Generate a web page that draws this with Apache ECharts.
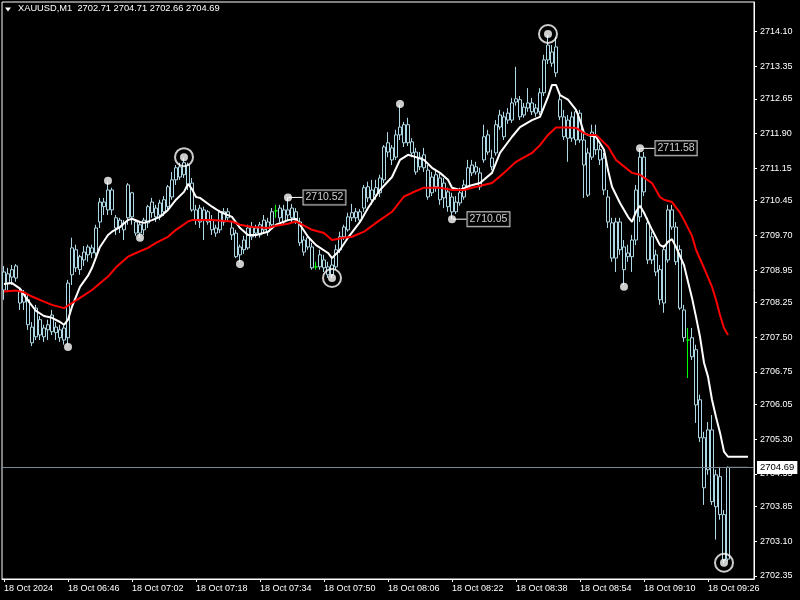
<!DOCTYPE html>
<html><head><meta charset="utf-8">
<script src="https://cdn.jsdelivr.net/npm/echarts@6/dist/echarts.min.js"></script>
<style>html,body{margin:0;padding:0;background:#000;}#c{width:800px;height:600px;}</style>
</head><body><div id="c"></div>
<script>
// ---- data (XAUUSD M1, 18 Oct 2024 06:30 .. 09:31) ----
const opens = [2708.52,2708.87,2708.80,2709.04,2708.48,2708.26,2708.31,2707.72,2707.51,2707.88,2707.51,2707.66,2707.98,2707.60,2707.66,2707.70,2707.49,2708.85,2709.39,2708.96,2709.17,2709.28,2709.43,2709.32,2709.99,2710.42,2710.25,2710.68,2710.08,2709.88,2709.97,2710.08,2710.62,2709.99,2709.75,2709.82,2709.97,2710.42,2710.10,2710.14,2710.21,2710.32,2710.53,2710.90,2711.18,2711.01,2711.22,2710.83,2710.25,2709.99,2710.25,2709.99,2710.03,2709.86,2709.82,2710.21,2710.08,2709.86,2709.75,2709.28,2709.39,2709.43,2709.88,2709.75,2709.93,2709.82,2709.99,2709.93,2710.23,2710.08,2710.25,2710.14,2710.08,2710.21,2709.99,2709.60,2709.45,2709.45,2709.02,2709.02,2709.17,2709.02,2708.85,2709.02,2709.39,2709.67,2709.82,2710.08,2710.21,2710.03,2710.29,2710.75,2710.47,2710.73,2710.62,2710.90,2711.70,2711.59,2711.39,2711.87,2712.09,2711.70,2711.72,2711.50,2711.18,2711.44,2711.11,2710.62,2711.01,2710.94,2710.51,2710.64,2710.53,2710.21,2710.40,2710.53,2710.73,2711.22,2711.07,2711.05,2711.33,2711.87,2711.37,2711.48,2712.04,2712.26,2712.19,2712.19,2712.58,2712.63,2712.30,2712.45,2712.56,2712.45,2712.37,2712.78,2713.49,2713.66,2713.77,2712.63,2712.26,2711.80,2712.26,2711.76,2712.34,2711.76,2711.48,2711.39,2711.83,2711.55,2711.37,2710.53,2709.97,2709.21,2709.99,2709.45,2709.24,2709.24,2709.60,2710.10,2711.39,2709.97,2709.17,2709.28,2708.96,2708.24,2709.17,2710.25,2709.88,2709.39,2708.09,2707.44,2707.49,2707.23,2706.15,2705.33,2704.64,2705.50,2703.84,2704.49,2703.67,2702.71];
const closes = [2708.91,2708.67,2708.96,2708.78,2708.24,2708.46,2707.77,2707.38,2708.13,2707.55,2707.70,2707.77,2707.62,2707.72,2707.49,2707.44,2708.67,2709.43,2709.00,2709.24,2709.34,2709.45,2709.32,2709.86,2710.42,2710.32,2710.68,2710.25,2709.86,2710.03,2709.82,2710.79,2710.10,2709.75,2709.93,2710.03,2710.32,2710.19,2710.29,2710.40,2710.47,2710.75,2710.90,2711.16,2710.96,2711.27,2710.79,2710.25,2710.03,2710.29,2710.03,2710.21,2709.82,2709.75,2710.21,2709.99,2710.21,2709.71,2709.24,2709.45,2709.60,2709.86,2709.67,2709.86,2709.71,2710.03,2709.78,2710.21,2710.23,2710.29,2709.99,2710.25,2710.29,2710.03,2709.54,2709.34,2709.65,2709.00,2709.02,2709.28,2709.00,2708.85,2709.06,2709.39,2709.67,2709.88,2710.10,2710.19,2710.08,2710.21,2710.73,2710.51,2710.68,2710.57,2710.94,2711.61,2711.50,2711.33,2711.87,2712.04,2711.70,2712.09,2711.48,2711.07,2711.39,2711.16,2710.53,2710.96,2710.75,2710.47,2710.83,2710.32,2710.21,2710.42,2710.62,2710.79,2711.16,2711.05,2711.18,2710.75,2711.83,2711.50,2711.18,2712.09,2712.30,2711.83,2712.34,2712.56,2712.65,2712.26,2712.47,2712.56,2712.37,2712.34,2712.78,2713.49,2713.81,2713.42,2713.21,2712.26,2711.83,2712.19,2711.80,2712.37,2711.76,2711.22,2710.57,2711.93,2711.55,2711.33,2710.68,2709.99,2709.21,2709.99,2709.39,2708.96,2709.32,2709.60,2710.68,2711.39,2710.64,2709.17,2709.67,2708.91,2708.31,2709.39,2710.25,2709.88,2709.13,2708.13,2707.49,2707.44,2707.08,2706.04,2705.33,2704.25,2705.50,2703.95,2704.53,2703.67,2702.69,2704.69];
const lows = [2708.31,2708.48,2708.63,2708.70,2708.09,2708.09,2707.66,2707.31,2707.44,2707.44,2707.40,2707.44,2707.55,2707.44,2707.40,2707.34,2707.33,2708.63,2708.91,2708.85,2709.04,2709.13,2709.21,2709.26,2709.86,2710.14,2710.14,2710.14,2709.71,2709.75,2709.60,2709.93,2709.93,2709.69,2709.65,2709.71,2709.86,2710.08,2709.99,2710.03,2710.12,2710.25,2710.47,2710.79,2710.90,2710.94,2710.68,2710.21,2709.93,2709.86,2709.60,2709.93,2709.71,2709.67,2709.75,2709.91,2709.99,2709.60,2709.21,2709.12,2709.30,2709.39,2709.60,2709.65,2709.65,2709.75,2709.69,2709.86,2710.08,2709.99,2709.93,2710.03,2709.99,2709.95,2709.47,2709.26,2709.39,2708.96,2708.96,2708.96,2708.91,2708.78,2708.78,2708.96,2709.32,2709.60,2709.78,2710.01,2709.99,2709.95,2710.21,2710.42,2710.36,2710.47,2710.53,2710.83,2711.39,2711.22,2711.33,2711.76,2711.61,2711.63,2711.39,2711.01,2711.11,2711.07,2710.47,2710.55,2710.64,2710.36,2710.29,2710.21,2710.05,2710.16,2710.34,2710.47,2710.68,2710.98,2711.01,2710.68,2711.27,2711.44,2711.11,2711.42,2711.98,2711.76,2712.11,2712.13,2712.50,2712.19,2712.24,2712.37,2712.30,2712.26,2712.30,2712.71,2713.40,2713.34,2713.12,2712.19,2711.76,2711.29,2711.72,2711.65,2711.70,2710.51,2710.53,2711.33,2711.44,2711.22,2710.57,2709.86,2709.13,2708.91,2709.28,2708.63,2709.13,2708.91,2709.49,2709.99,2710.55,2709.08,2709.08,2708.82,2708.20,2708.03,2709.11,2709.82,2709.06,2708.09,2707.40,2706.62,2707.01,2705.65,2705.24,2703.88,2704.53,2703.88,2703.13,2703.56,2702.62,2702.66];
const highs = [2709.04,2709.00,2709.06,2709.08,2708.57,2708.52,2708.42,2707.83,2708.20,2707.96,2707.77,2707.88,2708.09,2707.83,2707.77,2707.77,2708.74,2709.65,2709.50,2709.28,2709.47,2709.50,2709.50,2709.93,2710.51,2710.51,2710.86,2710.73,2710.14,2710.08,2710.03,2710.83,2710.64,2710.03,2709.99,2710.08,2710.36,2710.51,2710.36,2710.47,2710.55,2710.79,2711.07,2711.22,2711.27,2711.37,2711.27,2710.94,2710.36,2710.36,2710.32,2710.25,2710.14,2709.93,2710.25,2710.29,2710.29,2709.99,2709.82,2709.50,2709.69,2709.93,2709.99,2709.93,2709.99,2710.14,2710.08,2710.29,2710.36,2710.36,2710.36,2710.52,2710.38,2710.29,2710.08,2709.69,2709.71,2709.54,2709.13,2709.39,2709.28,2709.13,2709.21,2709.50,2709.78,2709.93,2710.19,2710.38,2710.29,2710.27,2710.79,2710.86,2710.90,2710.90,2711.01,2711.65,2711.93,2711.65,2711.98,2712.52,2712.15,2712.24,2711.80,2711.59,2711.50,2711.59,2711.22,2711.07,2711.11,2711.03,2710.94,2710.73,2710.62,2710.55,2710.73,2710.90,2711.33,2711.33,2711.29,2711.16,2712.09,2711.98,2711.55,2712.19,2712.41,2712.37,2712.45,2712.67,2713.34,2712.71,2712.56,2712.88,2712.67,2712.54,2712.88,2713.60,2714.03,2713.81,2713.99,2712.73,2712.41,2712.30,2712.37,2712.45,2712.41,2711.91,2711.59,2712.09,2712.09,2711.65,2711.48,2710.68,2710.08,2710.08,2710.08,2709.60,2709.50,2709.71,2710.79,2711.58,2711.50,2710.08,2709.78,2709.39,2709.06,2709.49,2710.36,2710.36,2709.99,2709.49,2708.20,2707.70,2707.70,2707.34,2706.26,2705.46,2705.67,2705.82,2704.64,2704.70,2703.77,2704.71];
const dojiBars = [68, 78, 171];

// moving averages: [barIndex, price]
const maFast = [[0,2708.65],[2,2708.67],[4,2708.55],[6,2708.29],[8,2708.07],[10,2707.96],[12,2707.92],[14,2707.83],[15,2707.77],[16,2707.88],[17,2708.16],[19,2708.59],[21,2708.83],[22,2709.00],[24,2709.45],[26,2709.71],[27,2709.78],[29,2709.88],[31,2710.03],[32,2710.06],[34,2709.99],[35,2709.97],[37,2710.03],[39,2710.10],[41,2710.25],[43,2710.47],[45,2710.64],[46,2710.81],[47,2710.70],[48,2710.53],[49,2710.51],[52,2710.32],[54,2710.21],[57,2710.10],[59,2709.86],[61,2709.71],[63,2709.71],[66,2709.78],[68,2709.93],[71,2710.03],[73,2710.06],[74,2709.93],[76,2709.67],[78,2709.49],[81,2709.32],[82,2709.21],[84,2709.39],[86,2709.65],[89,2709.99],[91,2710.29],[94,2710.68],[97,2710.96],[99,2711.33],[101,2711.44],[103,2711.39],[105,2711.33],[107,2711.16],[109,2711.05],[111,2710.90],[112,2710.73],[114,2710.68],[116,2710.76],[119,2710.83],[122,2711.05],[124,2711.48],[127,2711.83],[129,2712.04],[132,2712.19],[134,2712.26],[136,2712.69],[137,2712.95],[138,2712.95],[139,2712.73],[141,2712.63],[143,2712.41],[144,2712.19],[145,2711.91],[146,2711.87],[148,2711.83],[150,2711.55],[151,2711.11],[152,2710.75],[154,2710.40],[156,2710.10],[157,2709.99],[158,2710.21],[159,2710.34],[160,2710.19],[162,2709.82],[164,2709.49],[165,2709.45],[166,2709.56],[167,2709.62],[168,2709.45],[170,2709.06],[171,2708.70],[172,2708.35],[173,2707.94],[174,2707.51],[175,2706.95],[176,2706.65],[177,2706.15],[178,2705.78],[179,2705.44],[180,2705.03],[181,2704.92],[182,2704.92],[183,2704.92],[184,2704.92],[185,2704.92],[186,2704.92]];
const maSlow = [[0,2708.49],[3,2708.51],[5,2708.47],[7,2708.38],[10,2708.27],[12,2708.20],[15,2708.13],[17,2708.24],[19,2708.35],[22,2708.52],[26,2708.81],[28,2709.01],[31,2709.24],[33,2709.32],[36,2709.43],[38,2709.54],[41,2709.67],[43,2709.82],[46,2710.00],[47,2710.03],[52,2710.03],[57,2710.00],[59,2709.93],[62,2709.88],[66,2709.86],[68,2709.91],[71,2709.95],[73,2710.00],[75,2709.91],[77,2709.82],[80,2709.75],[82,2709.60],[85,2709.65],[87,2709.67],[90,2709.78],[93,2709.97],[97,2710.21],[100,2710.54],[102,2710.62],[105,2710.73],[109,2710.73],[112,2710.68],[115,2710.68],[117,2710.73],[122,2710.83],[125,2711.05],[128,2711.29],[132,2711.48],[134,2711.65],[136,2711.87],[138,2712.03],[141,2712.03],[143,2712.02],[145,2711.91],[146,2711.87],[148,2711.87],[151,2711.62],[153,2711.33],[157,2711.05],[159,2711.01],[162,2710.83],[164,2710.53],[165,2710.47],[167,2710.42],[169,2710.19],[170,2710.03],[172,2709.69],[173,2709.39],[175,2709.00],[177,2708.59],[178,2708.31],[179,2707.98],[180,2707.70],[181,2707.55]];

// swing points (fractal dots)
const swingBars = [16,26,34,45,59,71,82,99,112,136,155,159,180];
const swingVals = [2707.29,2710.88,2709.65,2711.39,2709.08,2710.52,2708.78,2712.54,2710.05,2714.05,2708.59,2711.58,2702.63];
const ringBars = [45,82,136,180];
const labelBars = [71,112,159];

const lastPrice = 2704.69;
const headerText = 'XAUUSD,M1  2702.71 2704.71 2702.66 2704.69';
const yTicks = [2702.35,2703.10,2703.85,2704.55,2705.30,2706.05,2706.75,2707.50,2708.25,2708.95,2709.70,2710.45,2711.15,2711.90,2712.65,2713.35,2714.10];
const xTickLabels = ['18 Oct 2024','18 Oct 06:46','18 Oct 07:02','18 Oct 07:18','18 Oct 07:34','18 Oct 07:50','18 Oct 08:06','18 Oct 08:22','18 Oct 08:38','18 Oct 08:54','18 Oct 09:10','18 Oct 09:26'];
const nSlots = 188;

// ---- build ----
const cats = [];
for (let i = 0; i < nSlots; i++) {
  const m = 6 * 60 + 30 + i;
  cats.push(String(Math.floor(m / 60)).padStart(2, '0') + ':' + String(m % 60).padStart(2, '0'));
}
const candleData = opens.map((o, i) => {
  const v = [o, closes[i], lows[i], highs[i]];
  if (dojiBars.includes(i)) {
    return { value: v, itemStyle: { borderColor: '#00ff00', borderColor0: '#00ff00', borderColorDoji: '#00ff00' } };
  }
  return v;
});
const dotData = swingBars.map((b, k) => [b, swingVals[k]]);
const ringData = swingBars.map((b, k) => [b, swingVals[k]]).filter(d => ringBars.includes(d[0]));
const labelData = swingBars.map((b, k) => [b, swingVals[k]]).filter(d => labelBars.includes(d[0]));
const lastLine = [];
for (let i = opens.length - 1; i <= 186; i++) lastLine.push([i, lastPrice]);

const FONT = 'Liberation Sans, Arial, sans-serif';
const chart = echarts.init(document.getElementById('c'), null, { renderer: 'canvas' });
chart.setOption({
  animation: false,
  backgroundColor: '#000',
  title: {
    text: headerText, left: 18, top: 4, padding: 0,
    textStyle: { color: '#fff', fontSize: 9.3, fontWeight: 'normal', fontFamily: FONT }
  },
  graphic: [{ type: 'polygon', shape: { points: [[5, 7.5], [11, 7.5], [8, 11.5]] }, style: { fill: '#fff' } }],
  grid: { left: 2, top: 2, width: 752, height: 577, show: true, borderColor: '#fff', borderWidth: 1, backgroundColor: '#000' },
  xAxis: {
    type: 'category', data: cats, boundaryGap: true,
    axisLine: { show: true, lineStyle: { color: '#fff' } },
    axisTick: { show: true, interval: 15, alignWithLabel: true, length: 3, lineStyle: { color: '#fff' } },
    axisLabel: { interval: 15, align: 'left', color: '#fff', fontSize: 9, fontFamily: FONT, margin: 5,
      formatter: (v, i) => xTickLabels[Math.round(i / 16)] },
    splitLine: { show: false }
  },
  yAxis: {
    type: 'value', position: 'right', min: 2702.28, max: 2714.74,
    splitLine: { show: false },
    axisLine: { show: true, lineStyle: { color: '#fff' } },
    axisTick: { show: true, length: 3, customValues: yTicks, lineStyle: { color: '#fff' } },
    axisLabel: { customValues: yTicks, color: '#fff', fontSize: 9, fontFamily: FONT, margin: 6,
      formatter: v => v.toFixed(2) }
  },
  series: [
    {
      type: 'candlestick', data: candleData, barWidth: 3, z: 2,
      itemStyle: { color: '#000', color0: '#000', borderColor: '#add8e6', borderColor0: '#add8e6', borderColorDoji: '#00ff00', borderWidth: 1 },
      markLine: {
        silent: true, symbol: 'none', animation: false,
        lineStyle: { color: '#778899', type: 'solid', width: 1 },
        label: { show: true, position: 'end', distance: 3, formatter: () => lastPrice.toFixed(2),
          backgroundColor: '#fff', color: '#000', fontSize: 9.5, fontFamily: FONT, padding: [2, 3, 1, 3] },
        data: [{ yAxis: lastPrice }]
      }
    },
    { type: 'line', data: maFast, showSymbol: false, symbol: 'none', z: 3,
      lineStyle: { color: '#fff', width: 2 } },
    { type: 'line', data: maSlow, showSymbol: false, symbol: 'none', z: 4,
      lineStyle: { color: '#ff0000', width: 2 } },
    { type: 'line', data: lastLine, showSymbol: false, symbol: 'none', z: 4,
      lineStyle: { color: '#fff', width: 1 } },
    { type: 'scatter', data: dotData, symbol: 'circle', symbolSize: 8, z: 6,
      itemStyle: { color: '#fff' } },
    { type: 'scatter', data: ringData, symbol: 'circle', symbolSize: 18, z: 5,
      itemStyle: { color: 'rgba(0,0,0,0)', borderColor: '#fff', borderWidth: 2 } },
    { type: 'scatter', data: labelData, symbol: 'circle', symbolSize: 1, z: 7,
      itemStyle: { color: 'rgba(0,0,0,0)' },
      label: { show: true, position: 'right', distance: 2, formatter: p => p.value[1].toFixed(2),
        color: '#fff', backgroundColor: '#000', borderColor: '#fff', borderWidth: 1,
        fontSize: 10.5, fontFamily: FONT, padding: [2, 2, 1, 2] },
      labelLayout: { dx: 13 },
      labelLine: { show: true, lineStyle: { color: '#fff', width: 1 } }
    }
  ]
});
</script></body></html>
